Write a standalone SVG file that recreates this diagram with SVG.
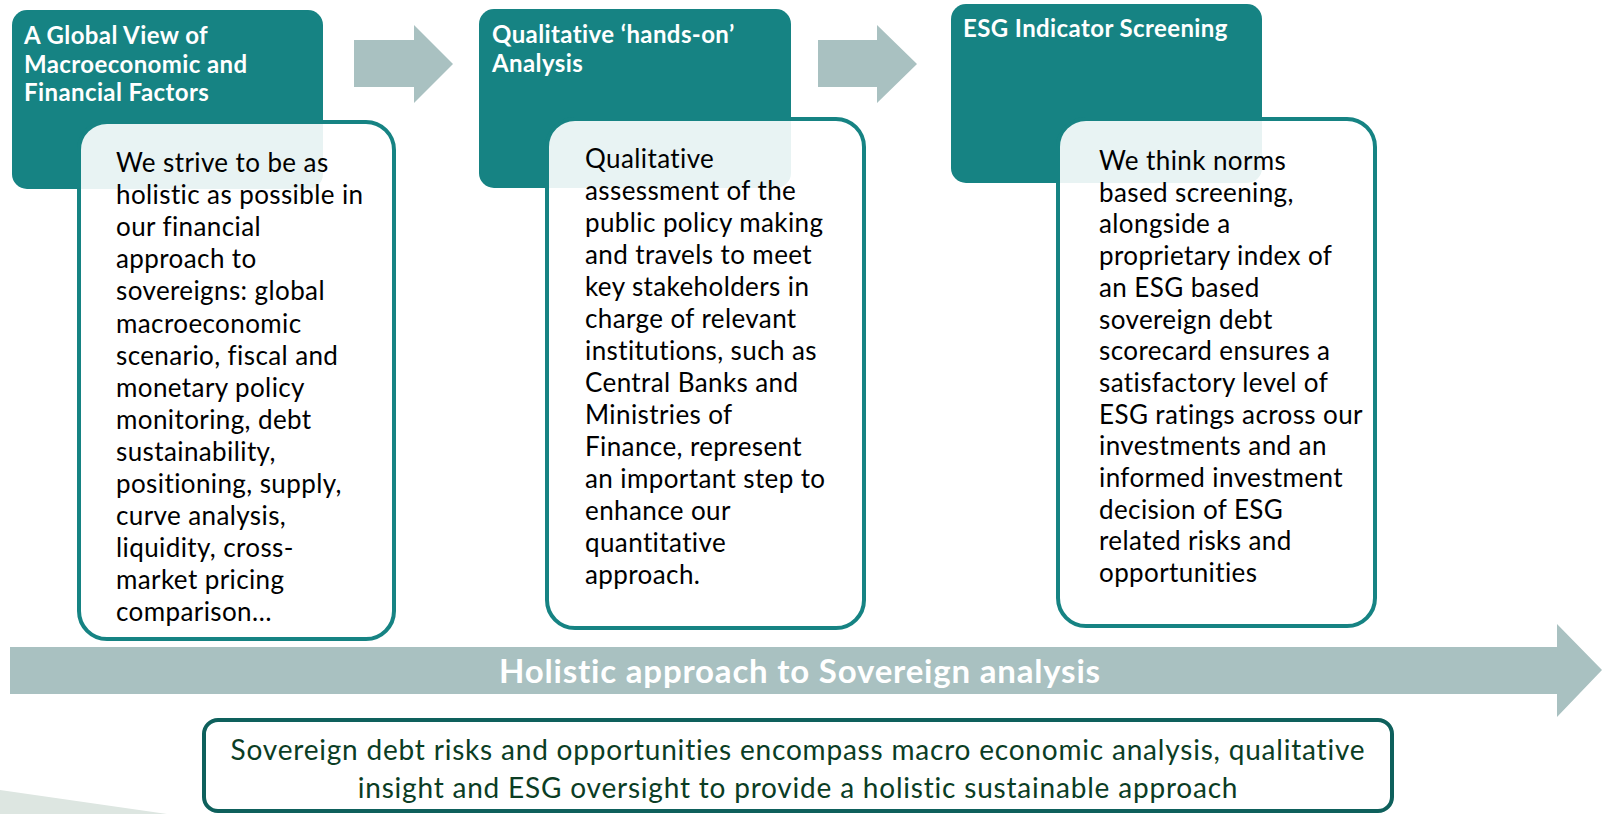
<svg xmlns="http://www.w3.org/2000/svg" width="1602" height="814" viewBox="0 0 1602 814">
  <style>
    .hdr { fill: #168383; }
    .hdr-t { font-family: Lato, "Open Sans", sans-serif; font-weight: 700; font-size: 24px; letter-spacing: 0.4px; fill: #ffffff; }
    .card { fill: #ffffff; fill-opacity: 0.9; stroke: #168383; stroke-width: 4; }
    .body-t { font-family: Lato, "Open Sans", sans-serif; font-size: 26px; letter-spacing: 0.4px; fill: #000000; }
    .flow { fill: #a9c1c1; }
    .flow-t { font-family: Lato, "Open Sans", sans-serif; font-weight: 700; font-size: 33px; letter-spacing: 0.8px; fill: #ffffff; }
    .note { fill: #ffffff; stroke: #0e605c; stroke-width: 4; }
    .note-t { font-family: Lato, "Open Sans", sans-serif; font-size: 28px; letter-spacing: 0.8px; fill: #0b3d24; }
  </style>

  <!-- background wedge, lower left -->
  <polygon points="0,790 167,814 0,814" fill="#dde6e1"/>

  <!-- step 1 -->
  <g id="step-macro">
    <rect class="hdr" x="12" y="10" width="311" height="179" rx="15"/>
    <text class="hdr-t" x="24" y="44">A Global View of<tspan x="24" dy="28.5">Macroeconomic and</tspan><tspan x="24" dy="28.5">Financial Factors</tspan></text>
    <rect class="card" x="79" y="122" width="315" height="517" rx="28"/>
    <text class="body-t" x="116" y="172">We strive to be as<tspan x="116" dy="32.1">holistic as possible in</tspan><tspan x="116" dy="32.1">our financial</tspan><tspan x="116" dy="32.1">approach to</tspan><tspan x="116" dy="32.1">sovereigns: global</tspan><tspan x="116" dy="32.1">macroeconomic</tspan><tspan x="116" dy="32.1">scenario, fiscal and</tspan><tspan x="116" dy="32.1">monetary policy</tspan><tspan x="116" dy="32.1">monitoring, debt</tspan><tspan x="116" dy="32.1">sustainability,</tspan><tspan x="116" dy="32.1">positioning, supply,</tspan><tspan x="116" dy="32.1">curve analysis,</tspan><tspan x="116" dy="32.1">liquidity, cross-</tspan><tspan x="116" dy="32.1">market pricing</tspan><tspan x="116" dy="32.1">comparison…</tspan></text>
  </g>

  <!-- step 2 -->
  <g id="step-qualitative">
    <rect class="hdr" x="479" y="9" width="312" height="179" rx="15"/>
    <text class="hdr-t" x="492" y="43">Qualitative ‘hands-on’<tspan x="492" dy="28.5">Analysis</tspan></text>
    <rect class="card" x="547" y="119" width="317" height="509" rx="28"/>
    <text class="body-t" x="585" y="168">Qualitative<tspan x="585" dy="32">assessment of the</tspan><tspan x="585" dy="32">public policy making</tspan><tspan x="585" dy="32">and travels to meet</tspan><tspan x="585" dy="32">key stakeholders in</tspan><tspan x="585" dy="32">charge of relevant</tspan><tspan x="585" dy="32">institutions, such as</tspan><tspan x="585" dy="32">Central Banks and</tspan><tspan x="585" dy="32">Ministries of</tspan><tspan x="585" dy="32">Finance, represent</tspan><tspan x="585" dy="32">an important step to</tspan><tspan x="585" dy="32">enhance our</tspan><tspan x="585" dy="32">quantitative</tspan><tspan x="585" dy="32">approach.</tspan></text>
  </g>

  <!-- step 3 -->
  <g id="step-esg">
    <rect class="hdr" x="951" y="4" width="311" height="179" rx="15"/>
    <text class="hdr-t" x="963" y="37">ESG Indicator Screening</text>
    <rect class="card" x="1058" y="119" width="317" height="507" rx="28"/>
    <text class="body-t" x="1099" y="170">We think norms<tspan x="1099" dy="31.7">based screening,</tspan><tspan x="1099" dy="31.7">alongside a</tspan><tspan x="1099" dy="31.7">proprietary index of</tspan><tspan x="1099" dy="31.7">an ESG based</tspan><tspan x="1099" dy="31.7">sovereign debt</tspan><tspan x="1099" dy="31.7">scorecard ensures a</tspan><tspan x="1099" dy="31.7">satisfactory level of</tspan><tspan x="1099" dy="31.7">ESG ratings across our</tspan><tspan x="1099" dy="31.7">investments and an</tspan><tspan x="1099" dy="31.7">informed investment</tspan><tspan x="1099" dy="31.7">decision of ESG</tspan><tspan x="1099" dy="31.7">related risks and</tspan><tspan x="1099" dy="31.7">opportunities</tspan></text>
  </g>

  <!-- block arrows between steps and the overall flow arrow -->
  <g id="connectors">
    <polygon class="flow" points="354,40 414,40 414,25 453,64 414,103 414,87 354,87"/>
    <polygon class="flow" points="818,40 877,40 877,25 917,64 877,103 877,87 818,87"/>
    <polygon class="flow" points="10,647 1557,647 1557,624 1602,670 1557,717 1557,694 10,694"/>
  </g>

  <g id="flow-label">
    <text class="flow-t" x="800" y="683" text-anchor="middle">Holistic approach to Sovereign analysis</text>
  </g>

  <!-- summary -->
  <g id="summary">
    <rect class="note" x="204" y="720" width="1188" height="91" rx="14"/>
    <text class="note-t" x="798" y="760" text-anchor="middle">Sovereign debt risks and opportunities encompass macro economic analysis, qualitative<tspan x="798" dy="38">insight and ESG oversight to provide a holistic sustainable approach</tspan></text>
  </g>
</svg>
